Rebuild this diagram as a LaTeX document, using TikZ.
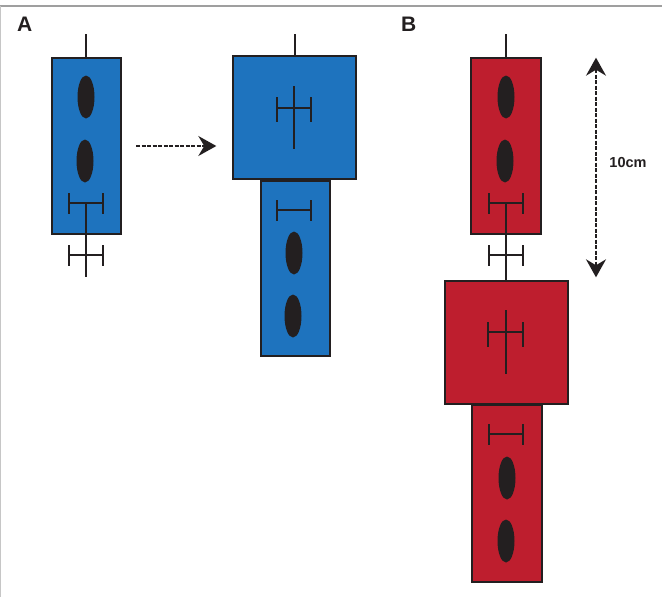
\documentclass[tikz,border=0pt]{standalone}
\usepackage{fontspec}
\setmainfont{Liberation Sans}
\usetikzlibrary{arrows.meta,shapes.geometric}
\definecolor{cblue}{RGB}{30,115,190}
\definecolor{cred}{RGB}{190,30,46}
\definecolor{cdark}{RGB}{35,31,32}
\tikzset{
  x=1pt,y=-1pt,
  blk/.style={draw=cdark,line width=1.8pt,rectangle,inner sep=0pt,anchor=north west},
  oval/.style={ellipse,fill=cdark,draw=none,minimum width=17pt,minimum height=43pt,inner sep=0pt},
  ln/.style={draw=cdark,line width=1.5pt},
  dim/.style={draw=cdark,line width=1.5pt,dash pattern=on 4pt off 1.5pt},
  bigtip/.tip={Stealth[length=18pt,width=20pt,inset=6pt]},
  lbl/.style={font=\bfseries\fontsize{21}{21}\selectfont,text=cdark,inner sep=0pt},
}
\newcommand{\hbarmark}[2]{% center x, y
  \draw[ln] (#1-17,#2) -- (#1+17,#2);
  \draw[ln] (#1-17,#2-10) -- (#1-17,#2+11);
  \draw[ln] (#1+17,#2-10) -- (#1+17,#2+11);}
\begin{document}
\begin{tikzpicture}
\useasboundingbox (0,0) rectangle (662,597);
\fill[white] (0,0) rectangle (662,597);
\draw[gray!75,line width=2pt] (0,6) -- (662,6);
\draw[gray!45,line width=1.5pt] (0.5,6) -- (0.5,597);

% labels
\node[lbl,anchor=north west] (la) at (17,17) {A};
\node[lbl,anchor=north west] (lb) at (401,17) {B};

% ===== Panel A left =====
\node[blk,fill=cblue,minimum width=69pt,minimum height=176pt] (a1) at (51,57) {};
\coordinate (a1t) at (86,34);
\draw[ln] (a1t) -- (a1.north -| a1t);
\node[oval] (a1e1) at (86,97) {};
\node[oval] (a1e2) at (85,161) {};
\hbarmark{86}{203}
\hbarmark{86}{255}
\coordinate (a1b) at (86,277);
\draw[ln] (86,203) -- (a1b);

% arrow
\coordinate (arrs) at (136,146);
\node[inner sep=0pt] (arre) at (217,146) {};
\draw[dim,-bigtip] (arrs) -- (arre);

% ===== Panel A right =====
\node[blk,fill=cblue,minimum width=123pt,minimum height=123pt] (a2) at (232,55) {};
\coordinate (a2t) at (295,34);
\draw[ln] (a2t) -- (a2.north -| a2t);
\draw[ln] (294,86) -- (294,149);
\draw[ln] (277,108) -- (311,108);
\draw[ln] (277,97) -- (277,122);
\draw[ln] (311,97) -- (311,122);
\node[blk,fill=cblue,minimum width=69pt,minimum height=175pt] (a3) at (260,180) {};
\hbarmark{294}{210}
\node[oval] (a3e1) at (294,253) {};
\node[oval] (a3e2) at (293,316) {};

% ===== Panel B =====
\node[blk,fill=cred,minimum width=70pt,minimum height=176pt] (b1) at (470,57) {};
\coordinate (b1t) at (506,34);
\draw[ln] (b1t) -- (b1.north -| b1t);
\node[oval] (b1e1) at (506,97) {};
\node[oval] (b1e2) at (505,161) {};
\hbarmark{506}{203}
\hbarmark{506}{255}
\node[blk,fill=cred,minimum width=123pt,minimum height=123pt] (b2) at (444,280) {};
\draw[ln] (506,203) -- (b2.north -| b1t);
\draw[ln] (506,310) -- (506,374);
\draw[ln] (488,332) -- (523,332);
\draw[ln] (488,322) -- (488,347);
\draw[ln] (523,322) -- (523,347);
\node[blk,fill=cred,minimum width=70pt,minimum height=177pt] (b3) at (471,404) {};
\hbarmark{506}{434}
\node[oval] (b3e1) at (507,478) {};
\node[oval] (b3e2) at (506,541) {};

% dimension
\node[inner sep=0pt] (dtop) at (596,57) {};
\node[inner sep=0pt] (dbot) at (596,278) {};
\draw[dim,bigtip-bigtip] (dtop) -- (dbot);
\node[font=\bfseries\fontsize{14.5}{14.5}\selectfont,text=cdark,inner sep=0pt] (dl) at (628,163) {10cm};
\end{tikzpicture}
\end{document}
